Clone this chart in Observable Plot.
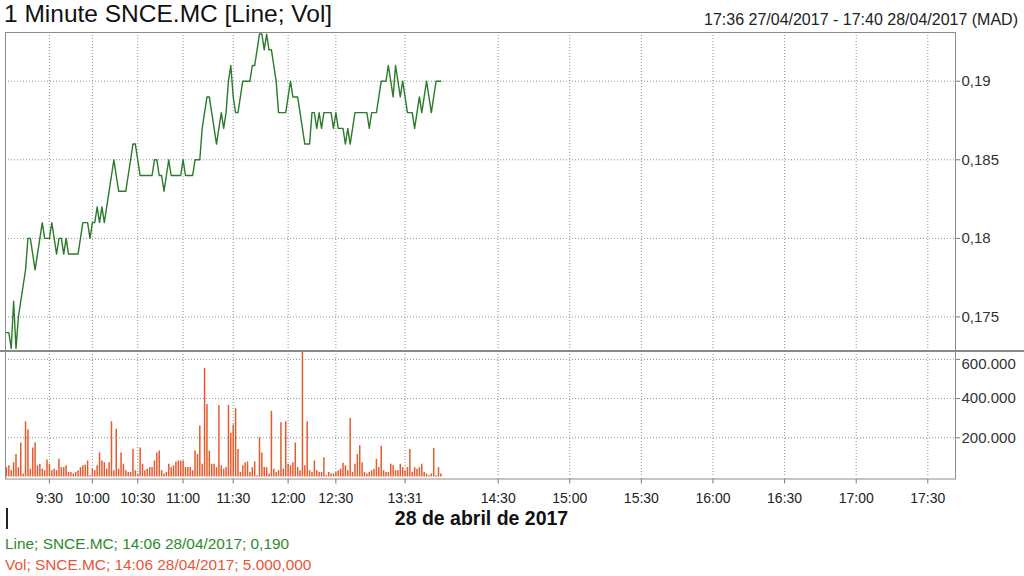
<!DOCTYPE html>
<html>
<head>
<meta charset="utf-8">
<script src="https://cdn.jsdelivr.net/npm/d3@7"></script>
<script src="https://cdn.jsdelivr.net/npm/@observablehq/plot@0.6"></script>
<style>
  body { margin: 0; background: #fff; font-family: "Liberation Sans", Arial, sans-serif; }
  #wrap { position: relative; width: 1024px; height: 576px; overflow: hidden; background: #fff; }
  .abs { position: absolute; white-space: nowrap; line-height: 1; }
</style>
</head>
<body>
<div id="wrap"></div>
<script>
// ---- Data (one value per traded-minute slot, 9:00 .. 14:06) ----
const price = [
  0.174,0.174,0.173,0.176,0.173,0.175,0.176,0.177,0.178,0.180,
  0.180,0.179,0.178,0.179,0.180,0.181,0.180,0.180,0.180,0.181,
  0.180,0.179,0.180,0.180,0.179,0.180,0.179,0.179,0.179,0.179,
  0.179,0.180,0.181,0.181,0.181,0.180,0.181,0.181,0.182,0.181,
  0.182,0.181,0.182,0.183,0.184,0.185,0.184,0.183,0.183,0.183,
  0.183,0.184,0.185,0.186,0.186,0.185,0.184,0.184,0.184,0.184,
  0.184,0.184,0.185,0.185,0.184,0.184,0.183,0.184,0.185,0.184,
  0.184,0.184,0.184,0.184,0.185,0.184,0.184,0.184,0.184,0.185,
  0.185,0.185,0.187,0.188,0.189,0.189,0.188,0.187,0.186,0.187,
  0.188,0.187,0.188,0.190,0.191,0.189,0.188,0.188,0.189,0.190,
  0.190,0.190,0.190,0.191,0.191,0.192,0.193,0.193,0.192,0.193,
  0.192,0.192,0.191,0.190,0.188,0.188,0.188,0.188,0.189,0.190,
  0.189,0.189,0.189,0.188,0.187,0.186,0.186,0.186,0.188,0.188,
  0.187,0.188,0.187,0.188,0.188,0.188,0.188,0.187,0.188,0.187,
  0.187,0.187,0.186,0.187,0.186,0.187,0.188,0.188,0.188,0.188,
  0.188,0.188,0.187,0.188,0.188,0.188,0.189,0.190,0.190,0.190,
  0.191,0.190,0.189,0.191,0.190,0.189,0.190,0.189,0.188,0.188,
  0.188,0.187,0.188,0.189,0.188,0.189,0.190,0.189,0.188,0.189,
  0.190,0.190,0.190
];
// volume in thousands of shares
const volumeK = [
  48,57,32,73,115,48,173,15,282,240,
  40,148,173,57,65,40,32,87,65,32,
  40,32,90,48,48,57,23,23,15,23,
  32,48,57,60,82,7,40,32,57,123,
  82,73,40,73,282,32,243,40,123,65,
  32,23,23,140,32,15,148,65,32,40,
  48,48,82,123,132,32,15,23,65,48,
  57,77,82,82,82,48,48,48,32,132,
  115,260,65,553,370,132,65,65,48,365,
  57,40,48,365,223,265,348,140,23,57,
  73,77,23,48,77,7,200,123,48,48,
  15,335,40,23,32,277,40,282,65,57,
  73,173,48,32,640,57,282,32,23,82,
  32,23,23,98,7,23,15,15,23,32,
  40,70,57,32,298,23,65,115,160,73,
  23,15,23,32,40,90,48,157,32,23,
  23,65,57,32,32,65,48,32,48,140,
  23,48,40,48,65,23,15,7,15,145,
  7,48,15
];
const tickLabels = ["9:30","10:00","10:30","11:00","11:30","12:00","12:30","13:31","14:30","15:00","15:30","16:00","16:30","17:00","17:30"];
const tickSlots  = [18, 36, 55, 74, 95, 118, 138, 167, 206, 236, 266, 296, 326, 356, 386];
const priceTicks = [0.175, 0.18, 0.185, 0.19];
const volumeTicks = [200000, 400000, 600000];
const slotDomain = [-0.4, 397.6]; // 9:00 .. 17:40

const titleText = "1 Minute SNCE.MC [Line; Vol]";
const rangeText = "17:36 27/04/2017 - 17:40 28/04/2017 (MAD)";
const dateText = "28 de abril de 2017";
const legendLine = "Line; SNCE.MC; 14:06 28/04/2017; 0,190";
const legendVol = "Vol; SNCE.MC; 14:06 28/04/2017; 5.000,000";

const data = price.map((p, i) => ({slot: i, price: p, volume: volumeK[i] * 1000}));

const FONT = '"Liberation Sans", Arial, sans-serif';
const GRID = {stroke: "#8f8f8f", strokeOpacity: 1, strokeDasharray: "1,2"};
const FRAME = "#8c8c8c";
const GREEN = "#2a7b2a";
const RED = "#e65a2e";
const volFmt = d => d3.format(",")(d).replace(/,/g, ".");

const wrap = document.getElementById("wrap");

// ---- Price panel ----
const pricePlot = Plot.plot({
  width: 1024, height: 351,
  marginTop: 32, marginBottom: 0, marginLeft: 5, marginRight: 69,
  style: {background: "transparent", fontFamily: FONT, fontSize: "15px", color: "#333"},
  x: {domain: slotDomain, axis: null},
  y: {domain: [0.1728, 0.1931]},
  marks: [
    Plot.gridX(tickSlots, GRID),
    Plot.gridY(priceTicks, GRID),
    Plot.axisY(priceTicks, {anchor: "right", tickSize: 4, tickPadding: 2, stroke: "#777", fill: "#333",
      tickFormat: d => String(d).replace(".", ","), label: null}),
    Plot.line(data, {x: "slot", y: "price", stroke: GREEN, strokeWidth: 1.4}),
    Plot.frame({stroke: FRAME})
  ]
});
pricePlot.style.position = "absolute";
pricePlot.style.left = "0px";
pricePlot.style.top = "0px";
wrap.appendChild(pricePlot);

// ---- Volume panel ----
const volPlot = Plot.plot({
  width: 1024, height: 170,
  marginTop: 11, marginBottom: 33.5, marginLeft: 5, marginRight: 69,
  style: {background: "transparent", fontFamily: FONT, fontSize: "15px", color: "#333"},
  x: {domain: slotDomain},
  y: {domain: [0, 640000]},
  marks: [
    Plot.gridX(tickSlots, GRID),
    Plot.gridY(volumeTicks, GRID),
    Plot.ruleX(data, {x: "slot", y1: 0, y2: "volume", stroke: RED, strokeWidth: 1.5}),
    Plot.axisY(volumeTicks, {anchor: "right", tickSize: 4, tickPadding: 2, stroke: "#777", fill: "#333",
      tickFormat: d => d === 600000 ? "" : volFmt(d), label: null}),
    Plot.axisY([600000], {anchor: "right", tickSize: 0, tickPadding: 6, dy: 5, fill: "#333",
      tickFormat: volFmt, label: null}),
    Plot.axisX(tickSlots, {anchor: "bottom", tickSize: 5, tickPadding: 9, dy: 2, fontSize: 14,
      stroke: "#777", fill: "#222", tickFormat: d => tickLabels[tickSlots.indexOf(d)], label: null}),
    Plot.frame({stroke: FRAME, insetBottom: -2})
  ]
});
volPlot.style.position = "absolute";
volPlot.style.left = "0px";
volPlot.style.top = "340px";
wrap.appendChild(volPlot);

// ---- Decorations & texts ----
function addDiv(text, css) {
  const d = document.createElement("div");
  d.className = "abs";
  if (text !== null) d.textContent = text;
  Object.assign(d.style, css);
  wrap.appendChild(d);
  return d;
}
// panel separator, full width
addDiv(null, {left: "0px", top: "350px", width: "1024px", height: "1.6px", background: "#8a8a8a"});
// date marker
addDiv(null, {left: "6px", top: "508px", width: "1.6px", height: "21px", background: "#222"});

addDiv(titleText, {left: "4px", top: "2px", fontSize: "24.5px", color: "#111"});
addDiv(rangeText, {right: "6px", top: "11.5px", fontSize: "16px", color: "#222"});
addDiv(dateText, {left: "481.5px", top: "508.5px", fontSize: "19.5px", fontWeight: "bold", color: "#111", transform: "translateX(-50%)"});
addDiv(legendLine, {left: "5px", top: "536px", fontSize: "15.4px", color: "#2e8a2e"});
addDiv(legendVol, {left: "5px", top: "557px", fontSize: "15.4px", color: "#e8553a"});
</script>
</body>
</html>
